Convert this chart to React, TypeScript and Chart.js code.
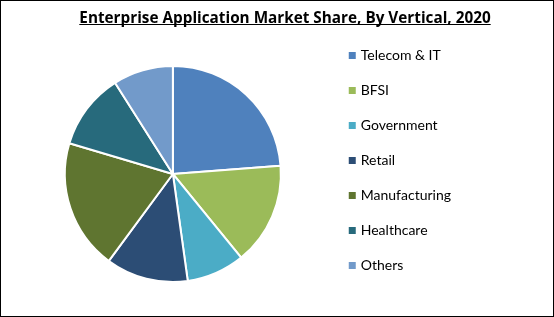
import React, { useEffect, useRef } from "react";
import { Chart, registerables } from "chart.js";

Chart.register(...registerables);

const TITLE = "Enterprise Application Market Share, By Vertical, 2020";
const categories = ["Telecom & IT", "BFSI", "Government", "Retail", "Manufacturing", "Healthcare", "Others"];
const shares = [23.8, 15.3, 8.7, 12.3, 19.5, 11.4, 9.0];
const colors = ["#4F81BD", "#9BBB59", "#4BACC6", "#2C4D75", "#5F7530", "#276A7C", "#729ACA"];

const TITLE_FONT = { family: "Open Sans", size: 15.3, weight: "bold" as const, lineHeight: 1.2 };

const titlePlugin = {
  id: "titleTweak",
  afterLayout(chart: any) {
    const t = chart.titleBlock;
    if (t) {
      t.left = 16;
      t.right = chart.width;
    }
  },
  afterDraw(chart: any) {
    const t = chart.titleBlock;
    if (!t) return;
    const ctx = chart.ctx;
    ctx.save();
    ctx.font = `bold ${TITLE_FONT.size}px "${TITLE_FONT.family}"`;
    const w = ctx.measureText(TITLE).width;
    const cx = (t.left + t.right) / 2;
    const mid = t.top + 0 + (TITLE_FONT.size * TITLE_FONT.lineHeight) / 2;
    const y = Math.round(mid + 6) + 0.5;
    ctx.strokeStyle = "#000";
    ctx.lineWidth = 1;
    ctx.beginPath();
    ctx.moveTo(cx - w / 2, y);
    ctx.lineTo(cx + w / 2, y);
    ctx.stroke();
    ctx.restore();
  },
};

export default function App() {
  const ref = useRef<HTMLCanvasElement>(null);
  useEffect(() => {
    if (!ref.current) return;
    const chart = new Chart(ref.current, {
      type: "pie",
      data: {
        labels: categories,
        datasets: [
          {
            data: shares,
            backgroundColor: colors,
            borderColor: "#ffffff",
            borderWidth: 2,
            radius: 108,
          } as any,
        ],
      },
      options: {
        responsive: false,
        animation: false,
        layout: { padding: { top: 8, bottom: 4, left: 15, right: 92 } },
        plugins: {
          title: {
            display: true,
            text: TITLE,
            color: "#000",
            font: TITLE_FONT,
            padding: { top: 0, bottom: 8.6 },
          },
          legend: {
            position: "right",
            align: "center",
            labels: {
              boxWidth: 3,
              boxHeight: 3,
              padding: 21,
              color: "#222",
              font: { family: "Lato", size: 14 },
              generateLabels: () =>
                categories.map((c, i) => ({
                  text: c,
                  fillStyle: colors[i],
                  strokeStyle: colors[i],
                  lineWidth: 4,
                  hidden: false,
                  index: i,
                  datasetIndex: 0,
                })),
            },
          },
          tooltip: { enabled: false },
        },
      },
      plugins: [titlePlugin],
    });
    return () => chart.destroy();
  }, []);
  return (
    <div
      style={{
        position: "absolute",
        top: 0,
        left: 0,
        width: 554,
        height: 317,
        border: "1px solid #000",
        boxSizing: "border-box",
        background: "#fff",
      }}
    >
      <canvas ref={ref} width={552} height={315} style={{ display: "block" }} />
    </div>
  );
}
